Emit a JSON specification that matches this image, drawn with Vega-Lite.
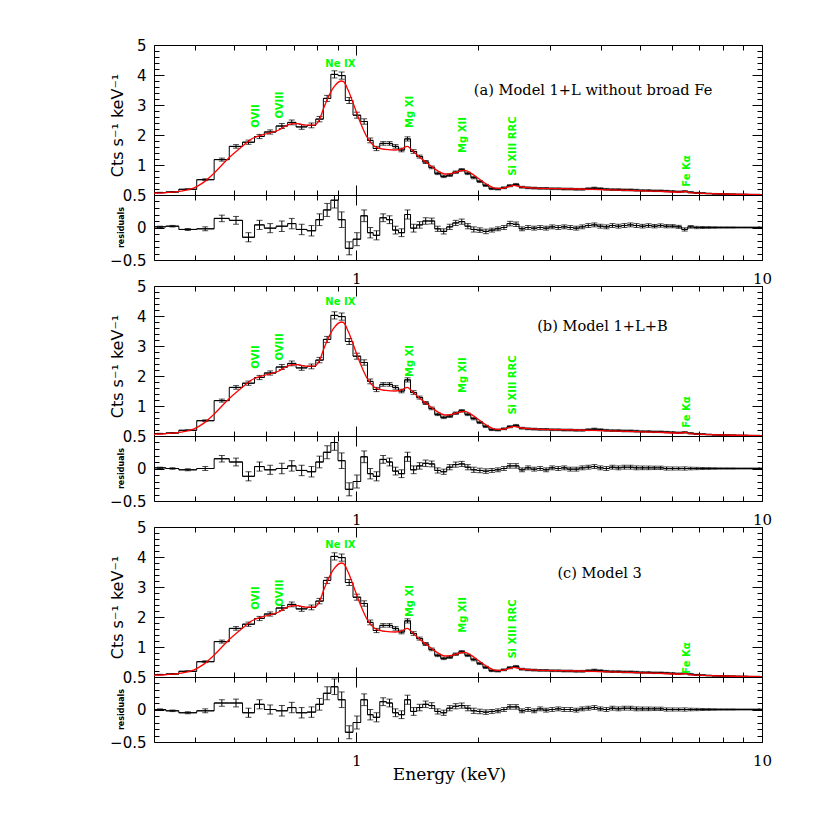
{
"$schema": "https://vega.github.io/schema/vega-lite/v6.json",
"background": "white",
"padding": {"left": 108, "top": 37, "right": 5, "bottom": 5},
"config": {
  "view": {"stroke": "black", "strokeWidth": 1},
  "axis": {"domain": false, "grid": false, "tickColor": "black", "tickWidth": 1, "labelColor": "black", "titleColor": "black", "labelFlush": false, "labelOverlap": false}
},
"datasets": {
"bins": [
{"lo":0.317,"hi":0.339,"c":0.328,"y":0.08,"e":0.01,"ra":0.01,"rb":0.01,"rc":0.0},
{"lo":0.339,"hi":0.365,"c":0.352,"y":0.10,"e":0.012,"ra":0.02,"rb":0.0,"rc":-0.02},
{"lo":0.365,"hi":0.404,"c":0.384,"y":0.19,"e":0.015,"ra":-0.03,"rb":-0.02,"rc":-0.05},
{"lo":0.404,"hi":0.446,"c":0.424,"y":0.51,"e":0.03,"ra":-0.02,"rb":0.0,"rc":-0.02},
{"lo":0.446,"hi":0.486,"c":0.466,"y":1.18,"e":0.05,"ra":0.14,"rb":0.15,"rc":0.1},
{"lo":0.486,"hi":0.524,"c":0.505,"y":1.62,"e":0.06,"ra":0.11,"rb":0.1,"rc":0.1},
{"lo":0.524,"hi":0.561,"c":0.542,"y":1.76,"e":0.07,"ra":-0.15,"rb":-0.12,"rc":-0.05},
{"lo":0.561,"hi":0.593,"c":0.577,"y":1.95,"e":0.07,"ra":0.04,"rb":0.03,"rc":0.08},
{"lo":0.593,"hi":0.634,"c":0.613,"y":2.10,"e":0.07,"ra":-0.01,"rb":-0.02,"rc":0.0},
{"lo":0.634,"hi":0.677,"c":0.655,"y":2.30,"e":0.08,"ra":0.02,"rb":0.0,"rc":-0.02},
{"lo":0.677,"hi":0.710,"c":0.693,"y":2.42,"e":0.08,"ra":0.06,"rb":0.04,"rc":0.03},
{"lo":0.710,"hi":0.756,"c":0.733,"y":2.27,"e":0.08,"ra":-0.03,"rb":-0.03,"rc":-0.05},
{"lo":0.756,"hi":0.794,"c":0.775,"y":2.32,"e":0.08,"ra":-0.05,"rb":-0.05,"rc":-0.04},
{"lo":0.794,"hi":0.829,"c":0.811,"y":2.53,"e":0.09,"ra":0.12,"rb":0.1,"rc":0.08},
{"lo":0.829,"hi":0.865,"c":0.847,"y":3.22,"e":0.1,"ra":0.27,"rb":0.25,"rc":0.25},
{"lo":0.865,"hi":0.901,"c":0.883,"y":4.02,"e":0.12,"ra":0.42,"rb":0.4,"rc":0.35},
{"lo":0.901,"hi":0.939,"c":0.920,"y":3.98,"e":0.12,"ra":0.12,"rb":0.12,"rc":0.15},
{"lo":0.939,"hi":0.981,"c":0.960,"y":3.15,"e":0.1,"ra":-0.32,"rb":-0.32,"rc":-0.35},
{"lo":0.981,"hi":1.025,"c":1.003,"y":2.66,"e":0.1,"ra":-0.18,"rb":-0.2,"rc":-0.2},
{"lo":1.025,"hi":1.065,"c":1.045,"y":2.45,"e":0.09,"ra":0.18,"rb":0.18,"rc":0.15},
{"lo":1.065,"hi":1.100,"c":1.082,"y":1.82,"e":0.08,"ra":-0.08,"rb":-0.08,"rc":-0.08},
{"lo":1.100,"hi":1.142,"c":1.121,"y":1.55,"e":0.07,"ra":-0.12,"rb":-0.12,"rc":-0.12},
{"lo":1.142,"hi":1.186,"c":1.164,"y":1.72,"e":0.06,"ra":0.15,"rb":0.14,"rc":0.12},
{"lo":1.186,"hi":1.228,"c":1.207,"y":1.72,"e":0.06,"ra":0.12,"rb":0.1,"rc":0.1},
{"lo":1.228,"hi":1.270,"c":1.249,"y":1.62,"e":0.06,"ra":-0.04,"rb":-0.04,"rc":-0.05},
{"lo":1.270,"hi":1.315,"c":1.292,"y":1.50,"e":0.06,"ra":-0.08,"rb":-0.08,"rc":-0.08},
{"lo":1.315,"hi":1.360,"c":1.337,"y":1.87,"e":0.07,"ra":0.2,"rb":0.18,"rc":0.15},
{"lo":1.360,"hi":1.408,"c":1.384,"y":1.45,"e":0.06,"ra":-0.01,"rb":-0.02,"rc":-0.03},
{"lo":1.408,"hi":1.457,"c":1.432,"y":1.28,"e":0.05,"ra":0.04,"rb":0.04,"rc":0.03},
{"lo":1.457,"hi":1.508,"c":1.482,"y":1.10,"e":0.05,"ra":0.1,"rb":0.08,"rc":0.08},
{"lo":1.508,"hi":1.560,"c":1.534,"y":0.92,"e":0.045,"ra":0.1,"rb":0.07,"rc":0.06},
{"lo":1.560,"hi":1.614,"c":1.587,"y":0.72,"e":0.04,"ra":-0.02,"rb":-0.03,"rc":-0.03},
{"lo":1.614,"hi":1.670,"c":1.642,"y":0.62,"e":0.04,"ra":-0.06,"rb":-0.05,"rc":-0.05},
{"lo":1.670,"hi":1.728,"c":1.699,"y":0.66,"e":0.04,"ra":0.01,"rb":0.02,"rc":0.02},
{"lo":1.728,"hi":1.788,"c":1.758,"y":0.76,"e":0.04,"ra":0.07,"rb":0.06,"rc":0.05},
{"lo":1.788,"hi":1.851,"c":1.819,"y":0.84,"e":0.04,"ra":0.09,"rb":0.07,"rc":0.06},
{"lo":1.851,"hi":1.915,"c":1.883,"y":0.72,"e":0.04,"ra":0.02,"rb":0.02,"rc":0.02},
{"lo":1.915,"hi":1.982,"c":1.948,"y":0.58,"e":0.04,"ra":-0.03,"rb":-0.02,"rc":-0.02},
{"lo":1.982,"hi":2.051,"c":2.016,"y":0.45,"e":0.035,"ra":-0.04,"rb":-0.03,"rc":-0.03},
{"lo":2.051,"hi":2.122,"c":2.086,"y":0.32,"e":0.035,"ra":-0.06,"rb":-0.04,"rc":-0.04},
{"lo":2.122,"hi":2.196,"c":2.159,"y":0.21,"e":0.03,"ra":-0.04,"rb":-0.03,"rc":-0.03},
{"lo":2.196,"hi":2.272,"c":2.234,"y":0.20,"e":0.03,"ra":-0.02,"rb":-0.02,"rc":-0.02},
{"lo":2.272,"hi":2.351,"c":2.311,"y":0.24,"e":0.03,"ra":0.0,"rb":0.0,"rc":0.0},
{"lo":2.351,"hi":2.433,"c":2.392,"y":0.31,"e":0.035,"ra":0.06,"rb":0.04,"rc":0.04},
{"lo":2.433,"hi":2.518,"c":2.475,"y":0.35,"e":0.035,"ra":0.05,"rb":0.04,"rc":0.04},
{"lo":2.518,"hi":2.605,"c":2.561,"y":0.26,"e":0.03,"ra":-0.02,"rb":-0.02,"rc":-0.02},
{"lo":2.605,"hi":2.696,"c":2.650,"y":0.24,"e":0.03,"ra":0.0,"rb":0.01,"rc":0.0},
{"lo":2.696,"hi":2.790,"c":2.743,"y":0.23,"e":0.03,"ra":-0.01,"rb":-0.01,"rc":-0.02},
{"lo":2.790,"hi":2.886,"c":2.838,"y":0.22,"e":0.03,"ra":0.0,"rb":0.0,"rc":0.01},
{"lo":2.886,"hi":2.987,"c":2.936,"y":0.22,"e":0.03,"ra":-0.01,"rb":-0.02,"rc":-0.01},
{"lo":2.987,"hi":3.091,"c":3.039,"y":0.21,"e":0.03,"ra":0.01,"rb":0.01,"rc":0.0},
{"lo":3.091,"hi":3.199,"c":3.145,"y":0.21,"e":0.03,"ra":0.0,"rb":0.0,"rc":0.01},
{"lo":3.199,"hi":3.310,"c":3.254,"y":0.20,"e":0.03,"ra":0.01,"rb":0.01,"rc":0.0},
{"lo":3.310,"hi":3.425,"c":3.367,"y":0.20,"e":0.03,"ra":0.0,"rb":-0.01,"rc":0.0},
{"lo":3.425,"hi":3.544,"c":3.484,"y":0.19,"e":0.03,"ra":-0.01,"rb":-0.01,"rc":-0.01},
{"lo":3.544,"hi":3.667,"c":3.605,"y":0.19,"e":0.03,"ra":0.01,"rb":0.01,"rc":0.01},
{"lo":3.667,"hi":3.795,"c":3.731,"y":0.21,"e":0.03,"ra":0.03,"rb":0.02,"rc":0.02},
{"lo":3.795,"hi":3.927,"c":3.861,"y":0.23,"e":0.03,"ra":0.04,"rb":0.03,"rc":0.03},
{"lo":3.927,"hi":4.064,"c":3.995,"y":0.21,"e":0.03,"ra":0.02,"rb":0.01,"rc":0.01},
{"lo":4.064,"hi":4.205,"c":4.134,"y":0.19,"e":0.03,"ra":0.01,"rb":0.0,"rc":0.0},
{"lo":4.205,"hi":4.351,"c":4.278,"y":0.18,"e":0.03,"ra":0.03,"rb":0.02,"rc":0.02},
{"lo":4.351,"hi":4.503,"c":4.426,"y":0.18,"e":0.03,"ra":0.02,"rb":0.01,"rc":0.01},
{"lo":4.503,"hi":4.659,"c":4.580,"y":0.17,"e":0.03,"ra":0.03,"rb":0.02,"rc":0.02},
{"lo":4.659,"hi":4.821,"c":4.740,"y":0.17,"e":0.03,"ra":0.04,"rb":0.02,"rc":0.02},
{"lo":4.821,"hi":4.989,"c":4.904,"y":0.16,"e":0.03,"ra":0.03,"rb":0.01,"rc":0.01},
{"lo":4.989,"hi":5.163,"c":5.075,"y":0.15,"e":0.028,"ra":0.02,"rb":0.01,"rc":0.01},
{"lo":5.163,"hi":5.342,"c":5.252,"y":0.15,"e":0.028,"ra":0.03,"rb":0.01,"rc":0.01},
{"lo":5.342,"hi":5.528,"c":5.434,"y":0.14,"e":0.026,"ra":0.02,"rb":0.01,"rc":0.01},
{"lo":5.528,"hi":5.720,"c":5.623,"y":0.14,"e":0.026,"ra":0.03,"rb":0.01,"rc":0.01},
{"lo":5.720,"hi":5.919,"c":5.819,"y":0.13,"e":0.025,"ra":0.02,"rb":0.0,"rc":0.0},
{"lo":5.919,"hi":6.125,"c":6.021,"y":0.12,"e":0.024,"ra":0.02,"rb":0.0,"rc":0.0},
{"lo":6.125,"hi":6.339,"c":6.231,"y":0.11,"e":0.023,"ra":0.01,"rb":0.0,"rc":0.0},
{"lo":6.339,"hi":6.559,"c":6.448,"y":0.12,"e":0.025,"ra":-0.03,"rb":0.0,"rc":0.0},
{"lo":6.559,"hi":6.787,"c":6.672,"y":0.09,"e":0.02,"ra":0.01,"rb":0.0,"rc":0.0},
{"lo":6.787,"hi":7.023,"c":6.904,"y":0.07,"e":0.018,"ra":0.0,"rb":0.0,"rc":0.0},
{"lo":7.023,"hi":7.268,"c":7.145,"y":0.06,"e":0.015,"ra":0.0,"rb":0.0,"rc":0.0},
{"lo":7.268,"hi":7.520,"c":7.393,"y":0.05,"e":0.014,"ra":0.0,"rb":0.0,"rc":0.0},
{"lo":7.520,"hi":7.782,"c":7.650,"y":0.04,"e":0.012,"ra":0.0,"rb":0.0,"rc":0.0},
{"lo":7.782,"hi":8.053,"c":7.916,"y":0.035,"e":0.01,"ra":0.0,"rb":0.0,"rc":0.0},
{"lo":8.053,"hi":8.333,"c":8.192,"y":0.03,"e":0.01,"ra":0.0,"rb":0.0,"rc":0.0},
{"lo":8.333,"hi":8.623,"c":8.477,"y":0.025,"e":0.01,"ra":0.0,"rb":0.0,"rc":0.0},
{"lo":8.623,"hi":8.923,"c":8.772,"y":0.02,"e":0.008,"ra":0.0,"rb":0.0,"rc":0.0},
{"lo":8.923,"hi":9.233,"c":9.077,"y":0.02,"e":0.008,"ra":0.0,"rb":0.0,"rc":0.0},
{"lo":9.233,"hi":9.555,"c":9.393,"y":0.015,"e":0.008,"ra":0.0,"rb":0.0,"rc":0.0},
{"lo":9.555,"hi":9.886,"c":9.719,"y":0.015,"e":0.008,"ra":0.0,"rb":0.0,"rc":0.0},
{"lo":9.886,"hi":10.0,"c":9.94,"y":0.01,"e":0.008,"ra":0.0,"rb":0.0,"rc":0.0}
],
"model": [
{"E":0.317,"ma":0.06,"mb":0.06,"mc":0.06},
{"E":0.34,"ma":0.08,"mb":0.08,"mc":0.08},
{"E":0.37,"ma":0.13,"mb":0.13,"mc":0.13},
{"E":0.398,"ma":0.24,"mb":0.24,"mc":0.24},
{"E":0.42,"ma":0.42,"mb":0.42,"mc":0.42},
{"E":0.445,"ma":0.72,"mb":0.72,"mc":0.72},
{"E":0.486,"ma":1.25,"mb":1.25,"mc":1.25},
{"E":0.524,"ma":1.63,"mb":1.63,"mc":1.63},
{"E":0.55,"ma":1.86,"mb":1.86,"mc":1.86},
{"E":0.592,"ma":2.02,"mb":2.02,"mc":2.02},
{"E":0.64,"ma":2.15,"mb":2.15,"mc":2.15},
{"E":0.69,"ma":2.37,"mb":2.37,"mc":2.37},
{"E":0.72,"ma":2.38,"mb":2.38,"mc":2.38},
{"E":0.743,"ma":2.33,"mb":2.33,"mc":2.33},
{"E":0.787,"ma":2.33,"mb":2.33,"mc":2.33},
{"E":0.81,"ma":2.5,"mb":2.5,"mc":2.5},
{"E":0.833,"ma":2.94,"mb":2.94,"mc":2.94},
{"E":0.876,"ma":3.56,"mb":3.56,"mc":3.56},
{"E":0.918,"ma":3.8,"mb":3.8,"mc":3.8},
{"E":0.93,"ma":3.78,"mb":3.78,"mc":3.78},
{"E":0.954,"ma":3.5,"mb":3.5,"mc":3.5},
{"E":0.989,"ma":2.94,"mb":2.94,"mc":2.94},
{"E":1.029,"ma":2.33,"mb":2.33,"mc":2.33},
{"E":1.06,"ma":1.95,"mb":1.95,"mc":1.95},
{"E":1.089,"ma":1.72,"mb":1.72,"mc":1.72},
{"E":1.132,"ma":1.56,"mb":1.56,"mc":1.56},
{"E":1.18,"ma":1.52,"mb":1.52,"mc":1.52},
{"E":1.25,"ma":1.5,"mb":1.5,"mc":1.5},
{"E":1.3,"ma":1.55,"mb":1.55,"mc":1.55},
{"E":1.335,"ma":1.62,"mb":1.62,"mc":1.62},
{"E":1.37,"ma":1.5,"mb":1.5,"mc":1.5},
{"E":1.42,"ma":1.3,"mb":1.3,"mc":1.3},
{"E":1.5,"ma":1.05,"mb":1.05,"mc":1.05},
{"E":1.58,"ma":0.82,"mb":0.82,"mc":0.82},
{"E":1.65,"ma":0.7,"mb":0.7,"mc":0.7},
{"E":1.72,"ma":0.72,"mb":0.72,"mc":0.72},
{"E":1.8,"ma":0.8,"mb":0.8,"mc":0.8},
{"E":1.85,"ma":0.82,"mb":0.82,"mc":0.82},
{"E":1.92,"ma":0.72,"mb":0.72,"mc":0.72},
{"E":2.0,"ma":0.55,"mb":0.55,"mc":0.55},
{"E":2.1,"ma":0.35,"mb":0.35,"mc":0.35},
{"E":2.18,"ma":0.24,"mb":0.24,"mc":0.24},
{"E":2.27,"ma":0.22,"mb":0.22,"mc":0.22},
{"E":2.38,"ma":0.28,"mb":0.28,"mc":0.28},
{"E":2.45,"ma":0.32,"mb":0.32,"mc":0.32},
{"E":2.52,"ma":0.28,"mb":0.28,"mc":0.28},
{"E":2.7,"ma":0.24,"mb":0.24,"mc":0.24},
{"E":3.2,"ma":0.21,"mb":0.21,"mc":0.21},
{"E":3.8,"ma":0.19,"mb":0.19,"mc":0.19},
{"E":4.5,"ma":0.16,"mb":0.16,"mc":0.16},
{"E":5.5,"ma":0.13,"mb":0.13,"mc":0.13},
{"E":6.2,"ma":0.1,"mb":0.1,"mc":0.1},
{"E":6.4,"ma":0.1,"mb":0.1,"mc":0.1},
{"E":6.48,"ma":0.13,"mb":0.13,"mc":0.13},
{"E":6.6,"ma":0.08,"mb":0.08,"mc":0.08},
{"E":7.0,"ma":0.06,"mb":0.06,"mc":0.06},
{"E":7.5,"ma":0.045,"mb":0.045,"mc":0.045},
{"E":8.5,"ma":0.025,"mb":0.025,"mc":0.025},
{"E":10.0,"ma":0.012,"mb":0.012,"mc":0.012}
],
"rot": [
{"p":"a","x":0.566,"y":2.63,"t":"OVII"},
{"p":"a","x":0.648,"y":3.0,"t":"OVIII"},
{"p":"a","x":1.352,"y":2.77,"t":"Mg XI"},
{"p":"a","x":1.83,"y":2.0,"t":"Mg XII"},
{"p":"a","x":2.43,"y":1.63,"t":"Si XIII RRC"},
{"p":"a","x":6.52,"y":0.8,"t":"Fe Kα"},
{"p":"b","x":0.566,"y":2.63,"t":"OVII"},
{"p":"b","x":0.648,"y":2.97,"t":"OVIII"},
{"p":"b","x":1.352,"y":2.5,"t":"Mg XI"},
{"p":"b","x":1.83,"y":2.03,"t":"Mg XII"},
{"p":"b","x":2.43,"y":1.7,"t":"Si XIII RRC"},
{"p":"b","x":6.52,"y":0.8,"t":"Fe Kα"},
{"p":"c","x":0.566,"y":2.63,"t":"OVII"},
{"p":"c","x":0.648,"y":2.8,"t":"OVIII"},
{"p":"c","x":1.352,"y":2.53,"t":"Mg XI"},
{"p":"c","x":1.83,"y":2.07,"t":"Mg XII"},
{"p":"c","x":2.43,"y":1.6,"t":"Si XIII RRC"},
{"p":"c","x":6.52,"y":0.63,"t":"Fe Kα"}
],
"hor": [
{"p":"a","x":0.913,"y":4.37,"t":"Ne IX"},
{"p":"b","x":0.913,"y":4.47,"t":"Ne IX"},
{"p":"c","x":0.913,"y":4.4,"t":"Ne IX"}
],
"ttl": [
{"p":"a","x":1.948,"y":3.47,"t":"(a) Model 1+L without broad Fe"},
{"p":"b","x":2.79,"y":3.63,"t":"(b) Model 1+L+B"},
{"p":"c","x":3.13,"y":3.43,"t":"(c) Model 3"}
]
},
"vconcat": [
 {"width": 608, "height": 150,
  "layer": [
   {"data": {"name": "bins"}, "mark": {"type": "rule", "color": "black", "strokeWidth": 1, "clip": true},
    "encoding": {
     "x": {"field": "lo", "type": "quantitative", "scale": {"type": "log", "domain": [0.317, 10], "nice": false}, "axis": {"orient": "bottom", "values": [1, 10], "tickSize": -10, "labels": false, "title": null}},
     "x2": {"field": "hi"},
     "y": {"field": "y", "type": "quantitative", "scale": {"domain": [0, 5], "nice": false, "zero": false}, "axis": {"orient": "left", "values": [0, 1, 2, 3, 4, 5], "tickSize": -10, "labelPadding": 18, "labelExpr": "datum.value == 0 ? '' : datum.label", "labelFont": "DejaVu Sans", "labelFontSize": 15, "title": "Cts s⁻¹ keV⁻¹", "titleX": -37, "titleY": 80, "titleAngle": 270, "titleAlign": "center", "titleBaseline": "middle", "titleFont": "DejaVu Sans", "titleFontSize": 16, "titleFontWeight": "normal"}}
    }},
   {"data": {"name": "bins"}, "mark": {"type": "line", "color": "black", "strokeWidth": 1, "interpolate": "step-after", "clip": true},
    "encoding": {
     "x": {"field": "lo", "type": "quantitative", "scale": {"type": "log", "domain": [0.317, 10], "nice": false}, "axis": {"orient": "bottom", "values": [0.4, 0.5, 0.6, 0.7, 0.8, 0.9, 2, 3, 4, 5, 6, 7, 8, 9], "tickSize": -5, "labels": false, "title": null}},
     "y": {"field": "y", "type": "quantitative", "scale": {"domain": [0, 5], "nice": false, "zero": false}, "axis": {"orient": "left", "values": [0.2, 0.4, 0.6, 0.8, 1.2, 1.4, 1.6, 1.8, 2.2, 2.4, 2.6, 2.8, 3.2, 3.4, 3.6, 3.8, 4.2, 4.4, 4.6, 4.8], "tickSize": -5, "labels": false, "title": null}}
    }},
   {"data": {"name": "bins"}, "mark": {"type": "errorbar", "color": "black", "ticks": {"size": 6}, "clip": true},
    "encoding": {
     "x": {"field": "c", "type": "quantitative", "scale": {"type": "log", "domain": [0.317, 10], "nice": false}, "axis": null},
     "y": {"field": "y", "type": "quantitative", "scale": {"domain": [0, 5], "nice": false, "zero": false}, "axis": null},
     "yError": {"field": "e"}
    }},
   {"data": {"name": "model"}, "mark": {"type": "line", "color": "#ff0000", "strokeWidth": 1.3, "interpolate": "monotone", "clip": true},
    "encoding": {
     "x": {"field": "E", "type": "quantitative", "scale": {"type": "log", "domain": [0.317, 10], "nice": false}, "axis": {"orient": "top", "values": [1, 10], "tickSize": -10, "labels": false, "title": null}},
     "y": {"field": "ma", "type": "quantitative", "scale": {"domain": [0, 5], "nice": false, "zero": false}, "axis": {"orient": "right", "values": [0, 1, 2, 3, 4, 5], "tickSize": -10, "labels": false, "title": null}}
    }},
   {"data": {"name": "rot"}, "transform": [{"filter": "datum.p == 'a'"}],
    "mark": {"type": "text", "angle": 270, "color": "#00ff00", "font": "DejaVu Sans", "fontWeight": "bold", "fontSize": 10, "align": "center", "baseline": "middle"},
    "encoding": {
     "x": {"field": "x", "type": "quantitative", "scale": {"type": "log", "domain": [0.317, 10], "nice": false}, "axis": {"orient": "top", "values": [0.4, 0.5, 0.6, 0.7, 0.8, 0.9, 2, 3, 4, 5, 6, 7, 8, 9], "tickSize": -5, "labels": false, "title": null}},
     "y": {"field": "y", "type": "quantitative", "scale": {"domain": [0, 5], "nice": false, "zero": false}, "axis": {"orient": "right", "values": [0.2, 0.4, 0.6, 0.8, 1.2, 1.4, 1.6, 1.8, 2.2, 2.4, 2.6, 2.8, 3.2, 3.4, 3.6, 3.8, 4.2, 4.4, 4.6, 4.8], "tickSize": -5, "labels": false, "title": null}},
     "text": {"field": "t"}
    }},
   {"data": {"name": "hor"}, "transform": [{"filter": "datum.p == 'a'"}],
    "mark": {"type": "text", "color": "#00ff00", "font": "DejaVu Sans", "fontWeight": "bold", "fontSize": 10, "align": "center", "baseline": "middle"},
    "encoding": {
     "x": {"field": "x", "type": "quantitative", "scale": {"type": "log", "domain": [0.317, 10], "nice": false}, "axis": null},
     "y": {"field": "y", "type": "quantitative", "scale": {"domain": [0, 5], "nice": false, "zero": false}, "axis": null},
     "text": {"field": "t"}
    }},
   {"data": {"name": "ttl"}, "transform": [{"filter": "datum.p == 'a'"}],
    "mark": {"type": "text", "color": "black", "font": "DejaVu Serif", "fontSize": 14.6, "align": "left", "baseline": "middle"},
    "encoding": {
     "x": {"field": "x", "type": "quantitative", "scale": {"type": "log", "domain": [0.317, 10], "nice": false}, "axis": null},
     "y": {"field": "y", "type": "quantitative", "scale": {"domain": [0, 5], "nice": false, "zero": false}, "axis": null},
     "text": {"field": "t"}
    }}
  ],
  "resolve": {"axis": {"x": "independent", "y": "independent"}}
 },
 {"width": 608, "height": 65,
  "layer": [
   {"data": {"name": "bins"}, "mark": {"type": "rule", "color": "black", "strokeWidth": 1, "clip": true},
    "encoding": {
     "x": {"field": "lo", "type": "quantitative", "scale": {"type": "log", "domain": [0.317, 10], "nice": false}, "axis": {"orient": "bottom", "values": [1, 10], "tickSize": -10, "labelPadding": 21, "format": "~g", "labelFont": "DejaVu Serif", "labelFontSize": 15, "title": null}},
     "x2": {"field": "hi"},
     "y": {"field": "ra", "type": "quantitative", "scale": {"domain": [-0.5, 0.5], "nice": false, "zero": false}, "axis": {"orient": "left", "values": [-0.5, 0, 0.5], "tickSize": -10, "labelPadding": 18, "format": "~g", "labelFont": "DejaVu Sans", "labelFontSize": 15, "title": "residuals", "titleX": -33, "titleY": 32, "titleAngle": 270, "titleAlign": "center", "titleBaseline": "middle", "titleFont": "DejaVu Sans", "titleFontSize": 8, "titleFontWeight": "bold"}}
    }},
   {"data": {"name": "bins"}, "mark": {"type": "line", "color": "black", "strokeWidth": 1, "interpolate": "step-after", "clip": true},
    "encoding": {
     "x": {"field": "lo", "type": "quantitative", "scale": {"type": "log", "domain": [0.317, 10], "nice": false}, "axis": {"orient": "bottom", "values": [0.4, 0.5, 0.6, 0.7, 0.8, 0.9, 2, 3, 4, 5, 6, 7, 8, 9], "tickSize": -5, "labels": false, "title": null}},
     "y": {"field": "ra", "type": "quantitative", "scale": {"domain": [-0.5, 0.5], "nice": false, "zero": false}, "axis": {"orient": "left", "values": [-0.4, -0.3, -0.2, -0.1, 0.1, 0.2, 0.3, 0.4], "tickSize": -5, "labels": false, "title": null}}
    }},
   {"data": {"name": "bins"}, "mark": {"type": "errorbar", "color": "black", "ticks": {"size": 6}, "clip": true},
    "encoding": {
     "x": {"field": "c", "type": "quantitative", "scale": {"type": "log", "domain": [0.317, 10], "nice": false}, "axis": null},
     "y": {"field": "ra", "type": "quantitative", "scale": {"domain": [-0.5, 0.5], "nice": false, "zero": false}, "axis": null},
     "yError": {"field": "e"}
    }},
   {"mark": {"type": "rule", "color": "black", "strokeWidth": 1},
    "encoding": {"y": {"datum": 0, "type": "quantitative", "scale": {"domain": [-0.5, 0.5], "nice": false, "zero": false}, "axis": null}}},
   {"data": {"name": "bins"}, "mark": {"type": "point", "opacity": 0},
    "encoding": {
     "x": {"field": "c", "type": "quantitative", "scale": {"type": "log", "domain": [0.317, 10], "nice": false}, "axis": {"orient": "top", "values": [1, 10], "tickSize": -10, "labels": false, "title": null}},
     "y": {"field": "ra", "type": "quantitative", "scale": {"domain": [-0.5, 0.5], "nice": false, "zero": false}, "axis": {"orient": "right", "values": [-0.5, 0, 0.5], "tickSize": -10, "labels": false, "title": null}}
    }},
   {"data": {"name": "bins"}, "mark": {"type": "point", "opacity": 0},
    "encoding": {
     "x": {"field": "c", "type": "quantitative", "scale": {"type": "log", "domain": [0.317, 10], "nice": false}, "axis": {"orient": "top", "values": [0.4, 0.5, 0.6, 0.7, 0.8, 0.9, 2, 3, 4, 5, 6, 7, 8, 9], "tickSize": -5, "labels": false, "title": null}},
     "y": {"field": "ra", "type": "quantitative", "scale": {"domain": [-0.5, 0.5], "nice": false, "zero": false}, "axis": {"orient": "right", "values": [-0.4, -0.3, -0.2, -0.1, 0.1, 0.2, 0.3, 0.4], "tickSize": -5, "labels": false, "title": null}}
    }}
  ],
  "resolve": {"axis": {"x": "independent", "y": "independent"}}
 },
 {"width": 608, "height": 26, "data": {"values": [{"v": 0}]}, "mark": {"type": "point", "opacity": 0}, "encoding": {}, "view": {"stroke": null}},
 {"width": 608, "height": 150,
  "layer": [
   {"data": {"name": "bins"}, "mark": {"type": "rule", "color": "black", "strokeWidth": 1, "clip": true},
    "encoding": {
     "x": {"field": "lo", "type": "quantitative", "scale": {"type": "log", "domain": [0.317, 10], "nice": false}, "axis": {"orient": "bottom", "values": [1, 10], "tickSize": -10, "labels": false, "title": null}},
     "x2": {"field": "hi"},
     "y": {"field": "y", "type": "quantitative", "scale": {"domain": [0, 5], "nice": false, "zero": false}, "axis": {"orient": "left", "values": [0, 1, 2, 3, 4, 5], "tickSize": -10, "labelPadding": 18, "labelExpr": "datum.value == 0 ? '' : datum.label", "labelFont": "DejaVu Sans", "labelFontSize": 15, "title": "Cts s⁻¹ keV⁻¹", "titleX": -37, "titleY": 80, "titleAngle": 270, "titleAlign": "center", "titleBaseline": "middle", "titleFont": "DejaVu Sans", "titleFontSize": 16, "titleFontWeight": "normal"}}
    }},
   {"data": {"name": "bins"}, "mark": {"type": "line", "color": "black", "strokeWidth": 1, "interpolate": "step-after", "clip": true},
    "encoding": {
     "x": {"field": "lo", "type": "quantitative", "scale": {"type": "log", "domain": [0.317, 10], "nice": false}, "axis": {"orient": "bottom", "values": [0.4, 0.5, 0.6, 0.7, 0.8, 0.9, 2, 3, 4, 5, 6, 7, 8, 9], "tickSize": -5, "labels": false, "title": null}},
     "y": {"field": "y", "type": "quantitative", "scale": {"domain": [0, 5], "nice": false, "zero": false}, "axis": {"orient": "left", "values": [0.2, 0.4, 0.6, 0.8, 1.2, 1.4, 1.6, 1.8, 2.2, 2.4, 2.6, 2.8, 3.2, 3.4, 3.6, 3.8, 4.2, 4.4, 4.6, 4.8], "tickSize": -5, "labels": false, "title": null}}
    }},
   {"data": {"name": "bins"}, "mark": {"type": "errorbar", "color": "black", "ticks": {"size": 6}, "clip": true},
    "encoding": {
     "x": {"field": "c", "type": "quantitative", "scale": {"type": "log", "domain": [0.317, 10], "nice": false}, "axis": null},
     "y": {"field": "y", "type": "quantitative", "scale": {"domain": [0, 5], "nice": false, "zero": false}, "axis": null},
     "yError": {"field": "e"}
    }},
   {"data": {"name": "model"}, "mark": {"type": "line", "color": "#ff0000", "strokeWidth": 1.3, "interpolate": "monotone", "clip": true},
    "encoding": {
     "x": {"field": "E", "type": "quantitative", "scale": {"type": "log", "domain": [0.317, 10], "nice": false}, "axis": {"orient": "top", "values": [1, 10], "tickSize": -10, "labels": false, "title": null}},
     "y": {"field": "mb", "type": "quantitative", "scale": {"domain": [0, 5], "nice": false, "zero": false}, "axis": {"orient": "right", "values": [0, 1, 2, 3, 4, 5], "tickSize": -10, "labels": false, "title": null}}
    }},
   {"data": {"name": "rot"}, "transform": [{"filter": "datum.p == 'b'"}],
    "mark": {"type": "text", "angle": 270, "color": "#00ff00", "font": "DejaVu Sans", "fontWeight": "bold", "fontSize": 10, "align": "center", "baseline": "middle"},
    "encoding": {
     "x": {"field": "x", "type": "quantitative", "scale": {"type": "log", "domain": [0.317, 10], "nice": false}, "axis": {"orient": "top", "values": [0.4, 0.5, 0.6, 0.7, 0.8, 0.9, 2, 3, 4, 5, 6, 7, 8, 9], "tickSize": -5, "labels": false, "title": null}},
     "y": {"field": "y", "type": "quantitative", "scale": {"domain": [0, 5], "nice": false, "zero": false}, "axis": {"orient": "right", "values": [0.2, 0.4, 0.6, 0.8, 1.2, 1.4, 1.6, 1.8, 2.2, 2.4, 2.6, 2.8, 3.2, 3.4, 3.6, 3.8, 4.2, 4.4, 4.6, 4.8], "tickSize": -5, "labels": false, "title": null}},
     "text": {"field": "t"}
    }},
   {"data": {"name": "hor"}, "transform": [{"filter": "datum.p == 'b'"}],
    "mark": {"type": "text", "color": "#00ff00", "font": "DejaVu Sans", "fontWeight": "bold", "fontSize": 10, "align": "center", "baseline": "middle"},
    "encoding": {
     "x": {"field": "x", "type": "quantitative", "scale": {"type": "log", "domain": [0.317, 10], "nice": false}, "axis": null},
     "y": {"field": "y", "type": "quantitative", "scale": {"domain": [0, 5], "nice": false, "zero": false}, "axis": null},
     "text": {"field": "t"}
    }},
   {"data": {"name": "ttl"}, "transform": [{"filter": "datum.p == 'b'"}],
    "mark": {"type": "text", "color": "black", "font": "DejaVu Serif", "fontSize": 14.6, "align": "left", "baseline": "middle"},
    "encoding": {
     "x": {"field": "x", "type": "quantitative", "scale": {"type": "log", "domain": [0.317, 10], "nice": false}, "axis": null},
     "y": {"field": "y", "type": "quantitative", "scale": {"domain": [0, 5], "nice": false, "zero": false}, "axis": null},
     "text": {"field": "t"}
    }}
  ],
  "resolve": {"axis": {"x": "independent", "y": "independent"}}
 },
 {"width": 608, "height": 65,
  "layer": [
   {"data": {"name": "bins"}, "mark": {"type": "rule", "color": "black", "strokeWidth": 1, "clip": true},
    "encoding": {
     "x": {"field": "lo", "type": "quantitative", "scale": {"type": "log", "domain": [0.317, 10], "nice": false}, "axis": {"orient": "bottom", "values": [1, 10], "tickSize": -10, "labelPadding": 21, "format": "~g", "labelFont": "DejaVu Serif", "labelFontSize": 15, "title": null}},
     "x2": {"field": "hi"},
     "y": {"field": "rb", "type": "quantitative", "scale": {"domain": [-0.5, 0.5], "nice": false, "zero": false}, "axis": {"orient": "left", "values": [-0.5, 0, 0.5], "tickSize": -10, "labelPadding": 18, "format": "~g", "labelFont": "DejaVu Sans", "labelFontSize": 15, "title": "residuals", "titleX": -33, "titleY": 32, "titleAngle": 270, "titleAlign": "center", "titleBaseline": "middle", "titleFont": "DejaVu Sans", "titleFontSize": 8, "titleFontWeight": "bold"}}
    }},
   {"data": {"name": "bins"}, "mark": {"type": "line", "color": "black", "strokeWidth": 1, "interpolate": "step-after", "clip": true},
    "encoding": {
     "x": {"field": "lo", "type": "quantitative", "scale": {"type": "log", "domain": [0.317, 10], "nice": false}, "axis": {"orient": "bottom", "values": [0.4, 0.5, 0.6, 0.7, 0.8, 0.9, 2, 3, 4, 5, 6, 7, 8, 9], "tickSize": -5, "labels": false, "title": null}},
     "y": {"field": "rb", "type": "quantitative", "scale": {"domain": [-0.5, 0.5], "nice": false, "zero": false}, "axis": {"orient": "left", "values": [-0.4, -0.3, -0.2, -0.1, 0.1, 0.2, 0.3, 0.4], "tickSize": -5, "labels": false, "title": null}}
    }},
   {"data": {"name": "bins"}, "mark": {"type": "errorbar", "color": "black", "ticks": {"size": 6}, "clip": true},
    "encoding": {
     "x": {"field": "c", "type": "quantitative", "scale": {"type": "log", "domain": [0.317, 10], "nice": false}, "axis": null},
     "y": {"field": "rb", "type": "quantitative", "scale": {"domain": [-0.5, 0.5], "nice": false, "zero": false}, "axis": null},
     "yError": {"field": "e"}
    }},
   {"mark": {"type": "rule", "color": "black", "strokeWidth": 1},
    "encoding": {"y": {"datum": 0, "type": "quantitative", "scale": {"domain": [-0.5, 0.5], "nice": false, "zero": false}, "axis": null}}},
   {"data": {"name": "bins"}, "mark": {"type": "point", "opacity": 0},
    "encoding": {
     "x": {"field": "c", "type": "quantitative", "scale": {"type": "log", "domain": [0.317, 10], "nice": false}, "axis": {"orient": "top", "values": [1, 10], "tickSize": -10, "labels": false, "title": null}},
     "y": {"field": "rb", "type": "quantitative", "scale": {"domain": [-0.5, 0.5], "nice": false, "zero": false}, "axis": {"orient": "right", "values": [-0.5, 0, 0.5], "tickSize": -10, "labels": false, "title": null}}
    }},
   {"data": {"name": "bins"}, "mark": {"type": "point", "opacity": 0},
    "encoding": {
     "x": {"field": "c", "type": "quantitative", "scale": {"type": "log", "domain": [0.317, 10], "nice": false}, "axis": {"orient": "top", "values": [0.4, 0.5, 0.6, 0.7, 0.8, 0.9, 2, 3, 4, 5, 6, 7, 8, 9], "tickSize": -5, "labels": false, "title": null}},
     "y": {"field": "rb", "type": "quantitative", "scale": {"domain": [-0.5, 0.5], "nice": false, "zero": false}, "axis": {"orient": "right", "values": [-0.4, -0.3, -0.2, -0.1, 0.1, 0.2, 0.3, 0.4], "tickSize": -5, "labels": false, "title": null}}
    }}
  ],
  "resolve": {"axis": {"x": "independent", "y": "independent"}}
 },
 {"width": 608, "height": 26, "data": {"values": [{"v": 0}]}, "mark": {"type": "point", "opacity": 0}, "encoding": {}, "view": {"stroke": null}},
 {"width": 608, "height": 150,
  "layer": [
   {"data": {"name": "bins"}, "mark": {"type": "rule", "color": "black", "strokeWidth": 1, "clip": true},
    "encoding": {
     "x": {"field": "lo", "type": "quantitative", "scale": {"type": "log", "domain": [0.317, 10], "nice": false}, "axis": {"orient": "bottom", "values": [1, 10], "tickSize": -10, "labels": false, "title": null}},
     "x2": {"field": "hi"},
     "y": {"field": "y", "type": "quantitative", "scale": {"domain": [0, 5], "nice": false, "zero": false}, "axis": {"orient": "left", "values": [0, 1, 2, 3, 4, 5], "tickSize": -10, "labelPadding": 18, "labelExpr": "datum.value == 0 ? '' : datum.label", "labelFont": "DejaVu Sans", "labelFontSize": 15, "title": "Cts s⁻¹ keV⁻¹", "titleX": -37, "titleY": 80, "titleAngle": 270, "titleAlign": "center", "titleBaseline": "middle", "titleFont": "DejaVu Sans", "titleFontSize": 16, "titleFontWeight": "normal"}}
    }},
   {"data": {"name": "bins"}, "mark": {"type": "line", "color": "black", "strokeWidth": 1, "interpolate": "step-after", "clip": true},
    "encoding": {
     "x": {"field": "lo", "type": "quantitative", "scale": {"type": "log", "domain": [0.317, 10], "nice": false}, "axis": {"orient": "bottom", "values": [0.4, 0.5, 0.6, 0.7, 0.8, 0.9, 2, 3, 4, 5, 6, 7, 8, 9], "tickSize": -5, "labels": false, "title": null}},
     "y": {"field": "y", "type": "quantitative", "scale": {"domain": [0, 5], "nice": false, "zero": false}, "axis": {"orient": "left", "values": [0.2, 0.4, 0.6, 0.8, 1.2, 1.4, 1.6, 1.8, 2.2, 2.4, 2.6, 2.8, 3.2, 3.4, 3.6, 3.8, 4.2, 4.4, 4.6, 4.8], "tickSize": -5, "labels": false, "title": null}}
    }},
   {"data": {"name": "bins"}, "mark": {"type": "errorbar", "color": "black", "ticks": {"size": 6}, "clip": true},
    "encoding": {
     "x": {"field": "c", "type": "quantitative", "scale": {"type": "log", "domain": [0.317, 10], "nice": false}, "axis": null},
     "y": {"field": "y", "type": "quantitative", "scale": {"domain": [0, 5], "nice": false, "zero": false}, "axis": null},
     "yError": {"field": "e"}
    }},
   {"data": {"name": "model"}, "mark": {"type": "line", "color": "#ff0000", "strokeWidth": 1.3, "interpolate": "monotone", "clip": true},
    "encoding": {
     "x": {"field": "E", "type": "quantitative", "scale": {"type": "log", "domain": [0.317, 10], "nice": false}, "axis": {"orient": "top", "values": [1, 10], "tickSize": -10, "labels": false, "title": null}},
     "y": {"field": "mc", "type": "quantitative", "scale": {"domain": [0, 5], "nice": false, "zero": false}, "axis": {"orient": "right", "values": [0, 1, 2, 3, 4, 5], "tickSize": -10, "labels": false, "title": null}}
    }},
   {"data": {"name": "rot"}, "transform": [{"filter": "datum.p == 'c'"}],
    "mark": {"type": "text", "angle": 270, "color": "#00ff00", "font": "DejaVu Sans", "fontWeight": "bold", "fontSize": 10, "align": "center", "baseline": "middle"},
    "encoding": {
     "x": {"field": "x", "type": "quantitative", "scale": {"type": "log", "domain": [0.317, 10], "nice": false}, "axis": {"orient": "top", "values": [0.4, 0.5, 0.6, 0.7, 0.8, 0.9, 2, 3, 4, 5, 6, 7, 8, 9], "tickSize": -5, "labels": false, "title": null}},
     "y": {"field": "y", "type": "quantitative", "scale": {"domain": [0, 5], "nice": false, "zero": false}, "axis": {"orient": "right", "values": [0.2, 0.4, 0.6, 0.8, 1.2, 1.4, 1.6, 1.8, 2.2, 2.4, 2.6, 2.8, 3.2, 3.4, 3.6, 3.8, 4.2, 4.4, 4.6, 4.8], "tickSize": -5, "labels": false, "title": null}},
     "text": {"field": "t"}
    }},
   {"data": {"name": "hor"}, "transform": [{"filter": "datum.p == 'c'"}],
    "mark": {"type": "text", "color": "#00ff00", "font": "DejaVu Sans", "fontWeight": "bold", "fontSize": 10, "align": "center", "baseline": "middle"},
    "encoding": {
     "x": {"field": "x", "type": "quantitative", "scale": {"type": "log", "domain": [0.317, 10], "nice": false}, "axis": null},
     "y": {"field": "y", "type": "quantitative", "scale": {"domain": [0, 5], "nice": false, "zero": false}, "axis": null},
     "text": {"field": "t"}
    }},
   {"data": {"name": "ttl"}, "transform": [{"filter": "datum.p == 'c'"}],
    "mark": {"type": "text", "color": "black", "font": "DejaVu Serif", "fontSize": 14.6, "align": "left", "baseline": "middle"},
    "encoding": {
     "x": {"field": "x", "type": "quantitative", "scale": {"type": "log", "domain": [0.317, 10], "nice": false}, "axis": null},
     "y": {"field": "y", "type": "quantitative", "scale": {"domain": [0, 5], "nice": false, "zero": false}, "axis": null},
     "text": {"field": "t"}
    }}
  ],
  "resolve": {"axis": {"x": "independent", "y": "independent"}}
 },
 {"width": 608, "height": 65,
  "layer": [
   {"data": {"name": "bins"}, "mark": {"type": "rule", "color": "black", "strokeWidth": 1, "clip": true},
    "encoding": {
     "x": {"field": "lo", "type": "quantitative", "scale": {"type": "log", "domain": [0.317, 10], "nice": false}, "axis": {"orient": "bottom", "values": [1, 10], "tickSize": -10, "labelPadding": 21, "format": "~g", "labelFont": "DejaVu Serif", "labelFontSize": 15, "title": "Energy (keV)", "titleX": 295, "titleY": 24, "titleAlign": "center", "titleBaseline": "top", "titleFont": "DejaVu Serif", "titleFontSize": 17, "titleFontWeight": "normal"}},
     "x2": {"field": "hi"},
     "y": {"field": "rc", "type": "quantitative", "scale": {"domain": [-0.5, 0.5], "nice": false, "zero": false}, "axis": {"orient": "left", "values": [-0.5, 0, 0.5], "tickSize": -10, "labelPadding": 18, "format": "~g", "labelFont": "DejaVu Sans", "labelFontSize": 15, "title": "residuals", "titleX": -33, "titleY": 32, "titleAngle": 270, "titleAlign": "center", "titleBaseline": "middle", "titleFont": "DejaVu Sans", "titleFontSize": 8, "titleFontWeight": "bold"}}
    }},
   {"data": {"name": "bins"}, "mark": {"type": "line", "color": "black", "strokeWidth": 1, "interpolate": "step-after", "clip": true},
    "encoding": {
     "x": {"field": "lo", "type": "quantitative", "scale": {"type": "log", "domain": [0.317, 10], "nice": false}, "axis": {"orient": "bottom", "values": [0.4, 0.5, 0.6, 0.7, 0.8, 0.9, 2, 3, 4, 5, 6, 7, 8, 9], "tickSize": -5, "labels": false, "title": null}},
     "y": {"field": "rc", "type": "quantitative", "scale": {"domain": [-0.5, 0.5], "nice": false, "zero": false}, "axis": {"orient": "left", "values": [-0.4, -0.3, -0.2, -0.1, 0.1, 0.2, 0.3, 0.4], "tickSize": -5, "labels": false, "title": null}}
    }},
   {"data": {"name": "bins"}, "mark": {"type": "errorbar", "color": "black", "ticks": {"size": 6}, "clip": true},
    "encoding": {
     "x": {"field": "c", "type": "quantitative", "scale": {"type": "log", "domain": [0.317, 10], "nice": false}, "axis": null},
     "y": {"field": "rc", "type": "quantitative", "scale": {"domain": [-0.5, 0.5], "nice": false, "zero": false}, "axis": null},
     "yError": {"field": "e"}
    }},
   {"mark": {"type": "rule", "color": "black", "strokeWidth": 1},
    "encoding": {"y": {"datum": 0, "type": "quantitative", "scale": {"domain": [-0.5, 0.5], "nice": false, "zero": false}, "axis": null}}},
   {"data": {"name": "bins"}, "mark": {"type": "point", "opacity": 0},
    "encoding": {
     "x": {"field": "c", "type": "quantitative", "scale": {"type": "log", "domain": [0.317, 10], "nice": false}, "axis": {"orient": "top", "values": [1, 10], "tickSize": -10, "labels": false, "title": null}},
     "y": {"field": "rc", "type": "quantitative", "scale": {"domain": [-0.5, 0.5], "nice": false, "zero": false}, "axis": {"orient": "right", "values": [-0.5, 0, 0.5], "tickSize": -10, "labels": false, "title": null}}
    }},
   {"data": {"name": "bins"}, "mark": {"type": "point", "opacity": 0},
    "encoding": {
     "x": {"field": "c", "type": "quantitative", "scale": {"type": "log", "domain": [0.317, 10], "nice": false}, "axis": {"orient": "top", "values": [0.4, 0.5, 0.6, 0.7, 0.8, 0.9, 2, 3, 4, 5, 6, 7, 8, 9], "tickSize": -5, "labels": false, "title": null}},
     "y": {"field": "rc", "type": "quantitative", "scale": {"domain": [-0.5, 0.5], "nice": false, "zero": false}, "axis": {"orient": "right", "values": [-0.4, -0.3, -0.2, -0.1, 0.1, 0.2, 0.3, 0.4], "tickSize": -5, "labels": false, "title": null}}
    }}
  ],
  "resolve": {"axis": {"x": "independent", "y": "independent"}}
 }
],
"spacing": 0,
"bounds": "flush"
}
